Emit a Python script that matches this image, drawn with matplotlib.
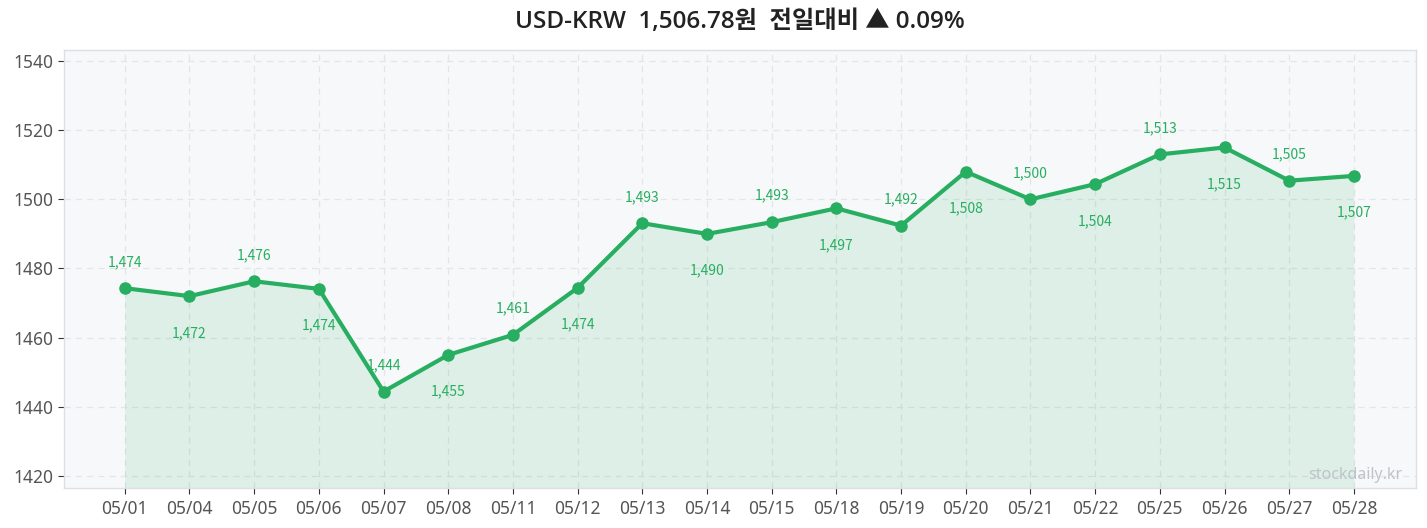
import matplotlib
matplotlib.use("Agg")
import matplotlib.pyplot as plt

plt.rcParams['font.family'] = ['Noto Sans', 'Noto Sans CJK KR', 'DejaVu Sans']

dates = ["05/01", "05/04", "05/05", "05/06", "05/07", "05/08", "05/11", "05/12",
         "05/13", "05/14", "05/15", "05/18", "05/19", "05/20", "05/21", "05/22",
         "05/25", "05/26", "05/27", "05/28"]
rates = [1474.3, 1472.0, 1476.3, 1474.1, 1444.4, 1455.0, 1460.8, 1474.4,
         1493.1, 1490.0, 1493.4, 1497.4, 1492.4, 1508.0, 1500.0, 1504.4,
         1513.0, 1515.0, 1505.4, 1506.78]
yticks = [1420, 1440, 1460, 1480, 1500, 1520, 1540]
title = "USD-KRW  1,506.78원  전일대비 ▲ 0.09%"
watermark = "stockdaily.kr"

green = "#27ae60"
fig = plt.figure(figsize=(14.27, 5.28), dpi=100)
ax = fig.add_axes([64/1427, 1 - 488/528, (1416-64)/1427, (488-50)/528])
ax.set_facecolor("#f7f8fa")

x = list(range(len(dates)))
ymin, ymax = 1416.5, 1543.2
ax.fill_between(x, rates, ymin, color=green, alpha=0.12, linewidth=0)
ax.plot(x, rates, color=green, linewidth=3, marker='o', markersize=8, zorder=3)

for i, v in enumerate(rates):
    lbl = f"{round(v):,}"
    off = 19 if i % 2 == 0 else -26.5
    ax.annotate(lbl, (i, v), xytext=(0, off), textcoords='offset points',
                ha='center', va='center', fontsize=10, color=green,
                family=['Noto Sans CJK KR', 'DejaVu Sans'])

ax.set_xlim(-0.94, 19.96)
ax.set_ylim(ymin, ymax)
ax.set_xticks(x)
ax.set_xticklabels(dates)
ax.set_yticks(yticks)
ax.tick_params(axis='both', colors='#555555', labelsize=12.5, length=4, color='#333333')
ax.tick_params(axis='x', pad=5)
ax.grid(True, linestyle=(0, (5, 4)), color='#e3e5e8', linewidth=0.9)
ax.set_axisbelow(True)
for s in ax.spines.values():
    s.set_color('#dcdfe4')
    s.set_linewidth(1)

ax.text(0.9895, 0.012, watermark, transform=ax.transAxes, ha='right', va='bottom',
        fontsize=11.5, color='#bfc3c8')

fig.text(740/1427, 1 - 22/528, title, ha='center', va='center', fontsize=17.5,
         fontweight='semibold', color='#222222',
         family=['Open Sans', 'Noto Sans CJK KR', 'DejaVu Sans'])

fig.savefig("out.png", dpi=100)
